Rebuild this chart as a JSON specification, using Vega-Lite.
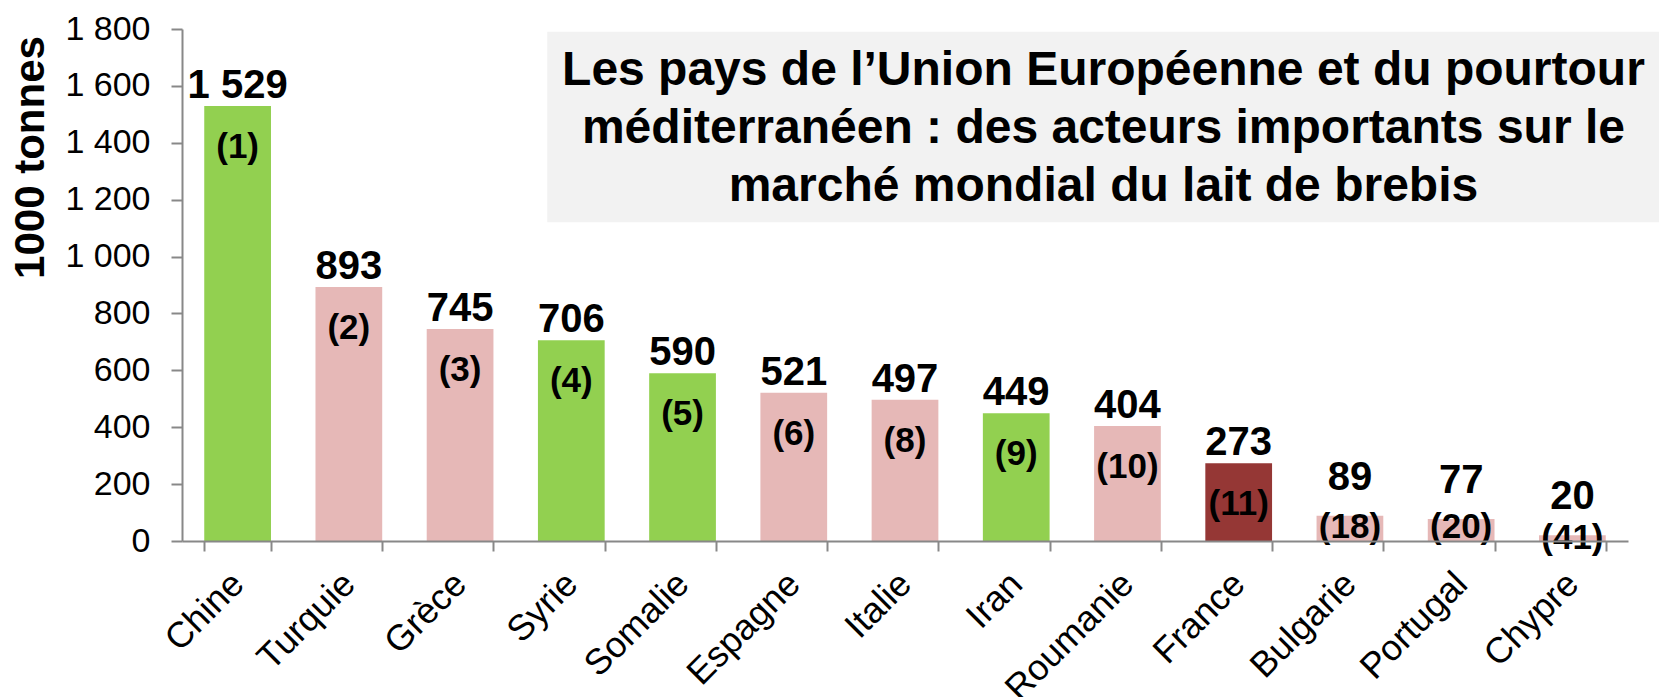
{
  "$schema": "https://vega.github.io/schema/vega-lite/v6.json",
  "autosize": "none",
  "width": 1446,
  "height": 512,
  "padding": {"left": 182, "top": 29, "right": 31, "bottom": 156},
  "background": "white",
  "config": {
    "locale": {"number": {"decimal": ",", "thousands": " ", "grouping": [3], "currency": ["", " €"]}},
    "view": {"stroke": null},
    "font": "Liberation Sans"
  },
  "data": {
    "values": [
      {"pays": "Chine", "valeur": 1529, "rang": "(1)", "groupe": "autre"},
      {"pays": "Turquie", "valeur": 893, "rang": "(2)", "groupe": "ue"},
      {"pays": "Grèce", "valeur": 745, "rang": "(3)", "groupe": "ue"},
      {"pays": "Syrie", "valeur": 706, "rang": "(4)", "groupe": "autre"},
      {"pays": "Somalie", "valeur": 590, "rang": "(5)", "groupe": "autre"},
      {"pays": "Espagne", "valeur": 521, "rang": "(6)", "groupe": "ue"},
      {"pays": "Italie", "valeur": 497, "rang": "(8)", "groupe": "ue"},
      {"pays": "Iran", "valeur": 449, "rang": "(9)", "groupe": "autre"},
      {"pays": "Roumanie", "valeur": 404, "rang": "(10)", "groupe": "ue"},
      {"pays": "France", "valeur": 273, "rang": "(11)", "groupe": "france"},
      {"pays": "Bulgarie", "valeur": 89, "rang": "(18)", "groupe": "ue"},
      {"pays": "Portugal", "valeur": 77, "rang": "(20)", "groupe": "ue"},
      {"pays": "Chypre", "valeur": 20, "rang": "(41)", "groupe": "ue"}
    ]
  },
  "encoding": {
    "x": {
      "field": "pays", "type": "nominal", "sort": null,
      "scale": {
        "domain": ["Chine", "Turquie", "Grèce", "Syrie", "Somalie", "Espagne", "Italie", "Iran", "Roumanie", "France", "Bulgarie", "Portugal", "Chypre"],
        "paddingInner": 0.4, "paddingOuter": 0.2
      },
      "axis": {
        "title": null, "labelAngle": -45, "labelFontSize": 36, "labelColor": "black",
        "labelFont": "Liberation Sans", "domainColor": "#888888", "domainWidth": 2,
        "tickColor": "#888888", "tickWidth": 2, "tickSize": 10, "tickBand": "extent",
        "labelPadding": 15, "labelOffset": -12, "grid": false
      }
    }
  },
  "layer": [
    {
      "data": {"values": [{"a": 1}]},
      "mark": {"type": "rect", "color": "#f2f2f2", "clip": false, "x2Offset": 54},
      "encoding": {
        "x": {"datum": "Syrie", "bandPosition": 0.14},
        "x2": {"datum": "Chypre", "bandPosition": 1},
        "y": {"datum": 1790},
        "y2": {"datum": 1121}
      }
    },
    {
      "mark": {"type": "bar"},
      "encoding": {
        "y": {
          "field": "valeur", "type": "quantitative",
          "scale": {"domain": [0, 1800]},
          "axis": {
            "title": "1000 tonnes", "titleFontSize": 42, "titleFontWeight": "bold", "titleColor": "black",
            "titleX": -152, "titleY": 128, "titleAngle": -90, "titleAlign": "center", "titleBaseline": "middle",
            "values": [0, 200, 400, 600, 800, 1000, 1200, 1400, 1600, 1800],
            "format": ",d", "labelFontSize": 34, "labelColor": "black", "labelPadding": 21,
            "domainColor": "#888888", "domainWidth": 2, "tickColor": "#888888", "tickWidth": 2, "tickSize": 11,
            "gridColor": "#888888", "gridWidth": 2
          }
        },
        "color": {
          "field": "groupe", "type": "nominal", "legend": null,
          "scale": {"domain": ["autre", "ue", "france"], "range": ["#92d050", "#e6b8b7", "#953735"]}
        }
      }
    },
    {
      "transform": [{"filter": "datum.valeur >= 150"}],
      "mark": {"type": "text", "fontSize": 40, "fontWeight": "bold", "color": "black", "baseline": "alphabetic", "dy": -8},
      "encoding": {"y": {"field": "valeur", "type": "quantitative"}, "text": {"field": "valeur", "type": "quantitative", "format": ",d"}}
    },
    {
      "transform": [{"filter": "datum.valeur < 150"}],
      "mark": {"type": "text", "fontSize": 40, "fontWeight": "bold", "color": "black", "baseline": "alphabetic", "dy": -26},
      "encoding": {"y": {"field": "valeur", "type": "quantitative"}, "text": {"field": "valeur", "type": "quantitative", "format": ",d"}}
    },
    {
      "transform": [{"filter": "datum.valeur >= 150"}],
      "mark": {"type": "text", "fontSize": 35, "fontWeight": "bold", "color": "black", "baseline": "middle", "dy": 41},
      "encoding": {"y": {"field": "valeur", "type": "quantitative"}, "text": {"field": "rang"}}
    },
    {
      "transform": [{"filter": "datum.valeur < 150 && datum.valeur >= 50"}],
      "mark": {"type": "text", "fontSize": 35, "fontWeight": "bold", "color": "black", "baseline": "middle", "dy": -14},
      "encoding": {"y": {"datum": 0}, "text": {"field": "rang"}}
    },
    {
      "transform": [{"filter": "datum.valeur < 50"}],
      "mark": {"type": "text", "fontSize": 35, "fontWeight": "bold", "color": "black", "baseline": "middle", "dy": -3},
      "encoding": {"y": {"datum": 0}, "text": {"field": "rang"}}
    },
    {
      "data": {"values": [{"titre": ["Les pays de l’Union Européenne et du pourtour", "méditerranéen : des acteurs importants sur le", "marché mondial du lait de brebis"]}]},
      "mark": {"type": "text", "fontSize": 48, "fontWeight": "bold", "color": "black", "baseline": "middle", "align": "center", "lineHeight": 58, "clip": false},
      "encoding": {
        "x": {"datum": "Roumanie", "bandPosition": 0.14},
        "y": {"datum": 1652},
        "text": {"field": "titre"}
      }
    }
  ]
}
